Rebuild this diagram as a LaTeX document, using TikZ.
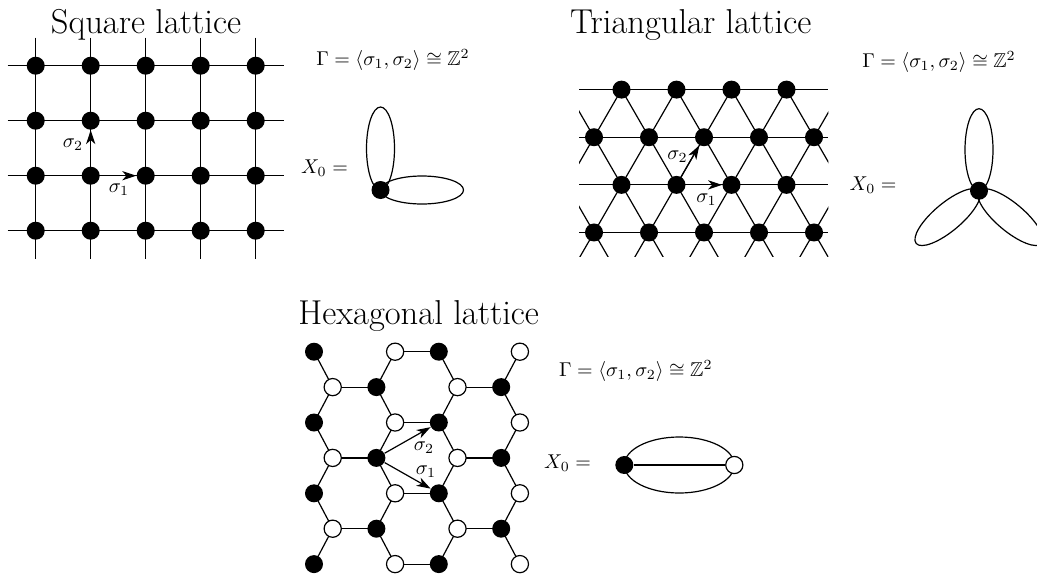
\documentclass[tikz,border=0pt]{standalone}
\usepackage{amssymb}
\usetikzlibrary{arrows.meta}
\begin{document}
\begin{tikzpicture}[x=0.5pt,y=-0.5pt,
  lat/.style={line width=0.6pt},
  bdot/.style={circle,fill=black,inner sep=0pt,minimum size=9pt},
  wdot/.style={circle,fill=white,draw=black,line width=0.6pt,inner sep=0pt,minimum size=8.6pt},
  gen/.style={line width=0.6pt,-{Stealth[length=7pt,width=4.6pt,inset=2pt]}},
  ttl/.style={font=\LARGE,anchor=base,inner sep=0pt},
  lbl/.style={inner sep=0pt}]
\useasboundingbox (0,0) rectangle (1037,573);

% ---------------- Square lattice ----------------
\node[ttl] (sqtitle) at (146,33.3) {Square lattice};
\foreach \j in {0,...,3} \draw[lat] (7.7,65.7+55*\j) -- (283.7,65.7+55*\j);
\foreach \i in {0,...,4} \draw[lat] (35.7+55*\i,37.7) -- (35.7+55*\i,258.7);
\foreach \i in {0,...,4} \foreach \j in {0,...,3}
  \node[bdot] (sq-\i-\j) at (35.7+55*\i,65.7+55*\j) {};
\draw[gen] (sq-1-2.center) -- (sq-2-2);
\draw[gen] (sq-1-2.center) -- (sq-1-1);
\node[lbl] (sqs1) at (119,190) {$\sigma_1$};
\node[lbl] (sqs2) at (73,144.5) {$\sigma_2$};

\node (sqgamma) at (393,60) {$\Gamma = \langle\sigma_1,\sigma_2\rangle \cong \mathbb{Z}^2$};
\node (sqx) at (324.5,168) {$X_0 =$};
\draw[lat] (380.5,148.5) ellipse [x radius=14, y radius=41.5];
\draw[lat] (422,190) ellipse [x radius=41.5, y radius=14];
\node[bdot] (sqv) at (380.5,190) {};

% ---------------- Triangular lattice ----------------
\node[ttl] (trititle) at (690.8,33.3) {Triangular lattice};
\begin{scope}
  \clip (579,89.6) rectangle (828.3,256.7);
  \foreach \k in {-4,...,6} {
    \draw[lat] (621.5+55*\k-55, 89.6-95.26) -- ++(220, 381.04);
    \draw[lat] (621.5+55*\k+55, 89.6-95.26) -- ++(-220, 381.04);
  }
\end{scope}
\foreach \j in {0,...,3} \draw[lat] (579,89.6+47.63*\j) -- (828.3,89.6+47.63*\j);
\foreach \j in {0,2} \foreach \i in {0,...,3}
  \node[bdot] (tri-\i-\j) at (621.5+55*\i,89.6+47.63*\j) {};
\foreach \j in {1,3} \foreach \i in {0,...,4}
  \node[bdot] (tri-\i-\j) at (594+55*\i,89.6+47.63*\j) {};
\draw[gen] (tri-1-2.center) -- (tri-2-2);
\draw[gen] (tri-1-2.center) -- (tri-2-1);
\node[lbl] (tris1) at (706.5,200) {$\sigma_1$};
\node[lbl] (tris2) at (677.5,157) {$\sigma_2$};

\node (trigamma) at (939,61.7) {$\Gamma = \langle\sigma_1,\sigma_2\rangle \cong \mathbb{Z}^2$};
\node (trix) at (873,185) {$X_0 =$};
\draw[lat] (979,149.7) ellipse [x radius=14, y radius=41];
\draw[lat, rotate around={220:(947.6,217.1)}] (947.6,217.1) ellipse [x radius=41, y radius=14];
\draw[lat, rotate around={320:(1010.4,217.1)}] (1010.4,217.1) ellipse [x radius=41, y radius=14];
\node[bdot] (triv) at (979,190.7) {};

% ---------------- Hexagonal lattice ----------------
\node[ttl] (hextitle) at (418.7,324) {Hexagonal lattice};
\foreach \r in {0,...,6}
  \foreach \c/\x in {0/314,1/332.7,2/376.4,3/395.1,4/438.8,5/457.5,6/501.2,7/519.9}
    \coordinate (h-\r-\c) at (\x,351.7+35.4*\r);
\foreach \r in {0,2,4,6} \draw[lat] (h-\r-3) -- (h-\r-4);
\foreach \r in {1,3,5} {
  \draw[lat] (h-\r-1) -- (h-\r-2);
  \draw[lat] (h-\r-5) -- (h-\r-6);
}
\foreach \r/\s in {0/1,2/3,4/5} {
  \draw[lat] (h-\r-0) -- (h-\s-1);
  \draw[lat] (h-\r-3) -- (h-\s-2);
  \draw[lat] (h-\r-4) -- (h-\s-5);
  \draw[lat] (h-\r-7) -- (h-\s-6);
}
\foreach \r/\s in {1/2,3/4,5/6} {
  \draw[lat] (h-\r-1) -- (h-\s-0);
  \draw[lat] (h-\r-2) -- (h-\s-3);
  \draw[lat] (h-\r-5) -- (h-\s-4);
  \draw[lat] (h-\r-6) -- (h-\s-7);
}
\foreach \r in {0,2,4,6} {
  \node[bdot] (hex-\r-0) at (h-\r-0) {};
  \node[wdot] (hex-\r-3) at (h-\r-3) {};
  \node[bdot] (hex-\r-4) at (h-\r-4) {};
  \node[wdot] (hex-\r-7) at (h-\r-7) {};
}
\foreach \r in {1,3,5} {
  \node[wdot] (hex-\r-1) at (h-\r-1) {};
  \node[bdot] (hex-\r-2) at (h-\r-2) {};
  \node[wdot] (hex-\r-5) at (h-\r-5) {};
  \node[bdot] (hex-\r-6) at (h-\r-6) {};
}
\draw[gen] (hex-3-2) -- (hex-2-4);
\draw[gen] (hex-3-2) -- (hex-4-4);
\node[lbl] (hexs2) at (424,448) {$\sigma_2$};
\node[lbl] (hexs1) at (426,472) {$\sigma_1$};

\node (hexgamma) at (635.8,370.7) {$\Gamma = \langle\sigma_1,\sigma_2\rangle \cong \mathbb{Z}^2$};
\node (hexx) at (567.5,463.3) {$X_0 =$};
\draw[lat] (679.3,465) ellipse [x radius=55, y radius=28];
\node[bdot] (hexb) at (624.3,465) {};
\node[wdot] (hexw) at (734.3,465) {};
\draw[lat] (hexb) -- (hexw);
\end{tikzpicture}
\end{document}
